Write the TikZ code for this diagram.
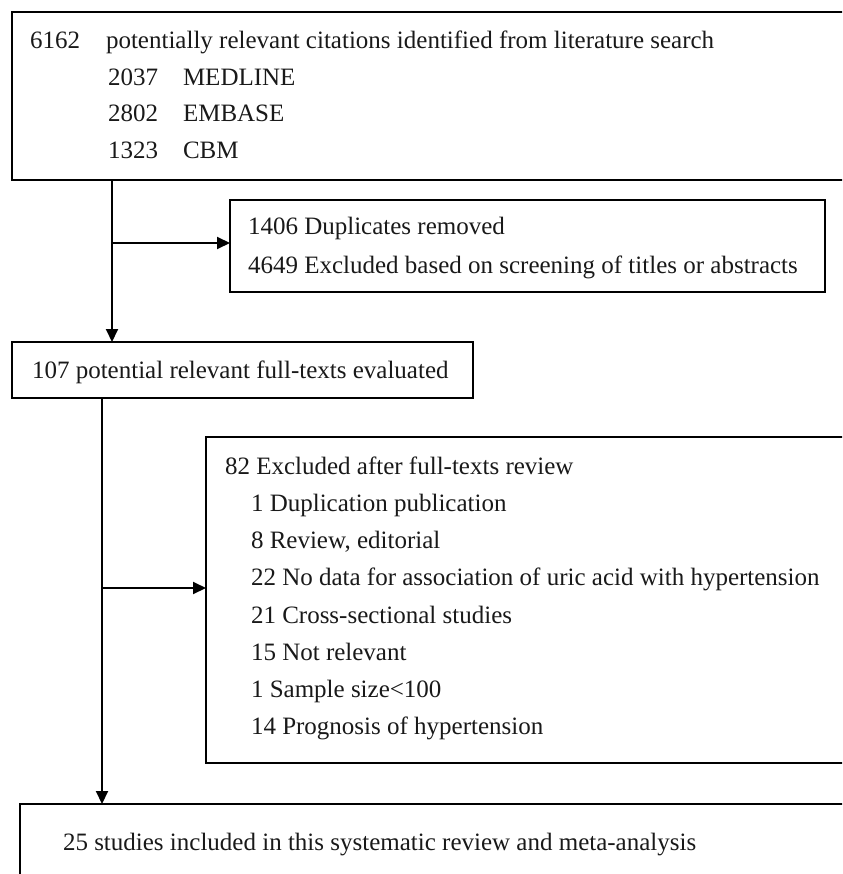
\documentclass[tikz,border=0pt]{standalone}
\usepackage{fontspec}
\setmainfont{Liberation Serif}
\usetikzlibrary{arrows.meta}
\begin{document}
\begin{tikzpicture}[x=1pt,y=-1pt,
  box/.style={draw, line width=2pt, outer sep=0pt, inner sep=0pt, anchor=north west},
  txt/.style={anchor=base west, inner sep=0pt, outer sep=0pt, font=\fontsize{25}{30}\selectfont, text=black!90},
  conn/.style={line width=2pt},
  arr/.style={conn, -{Triangle[length=13pt,width=12pt]}}]
\path[use as bounding box, clip] (0,0) rectangle (842,874);
% boxes
\node[box, minimum width=850pt, minimum height=168pt] (search) at (12,12) {};
\node[box, minimum width=595pt, minimum height=92pt] (dup) at (230,200) {};
\node[box, minimum width=461pt, minimum height=56pt] (full) at (12,342) {};
\node[box, minimum width=656pt, minimum height=326pt] (excl) at (206,437) {};
\node[box, minimum width=842pt, minimum height=96pt] (incl) at (20,804) {};
% texts: search box
\node[txt] (s0n) at (30,49) {6162};
\node[txt] (s0t) at (106,49) {potentially relevant citations identified from literature search};
\node[txt] (s1n) at (108,86) {2037};
\node[txt] (s1t) at (183,86) {MEDLINE};
\node[txt] (s2n) at (108,122) {2802};
\node[txt] (s2t) at (183,122) {EMBASE};
\node[txt] (s3n) at (108,159) {1323};
\node[txt] (s3t) at (183,159) {CBM};
% duplicates box
\node[txt] (d1) at (248,235) {1406 Duplicates removed};
\node[txt] (d2) at (248,273) {4649 Excluded based on screening of titles or abstracts};
% full texts
\node[txt] (f1) at (32,378) {107 potential relevant full-texts evaluated};
% excluded after review
\node[txt] (e0) at (225,474) {82 Excluded after full-texts review};
\node[txt] (e1) at (251,511) {1 Duplication publication};
\node[txt] (e2) at (251,548) {8 Review, editorial};
\node[txt] (e3) at (251,585) {22 No data for association of uric acid with hypertension};
\node[txt] (e4) at (251,623) {21 Cross-sectional studies};
\node[txt] (e5) at (251,660) {15 Not relevant};
\node[txt] (e6) at (251,697) {1 Sample size<100};
\node[txt] (e7) at (251,734) {14 Prognosis of hypertension};
% included
\node[txt] (i1) at (63,850) {25 studies included in this systematic review and meta-analysis};
% connectors
\coordinate (j1) at (112,243);
\coordinate (j2) at (102,588);
\draw[arr] (search.south -| j1) -- (full.north -| j1);
\draw[arr] (j1) -- (dup.west |- j1);
\draw[arr] (full.south -| j2) -- (incl.north -| j2);
\draw[arr] (j2) -- (excl.west |- j2);
\end{tikzpicture}
\end{document}
